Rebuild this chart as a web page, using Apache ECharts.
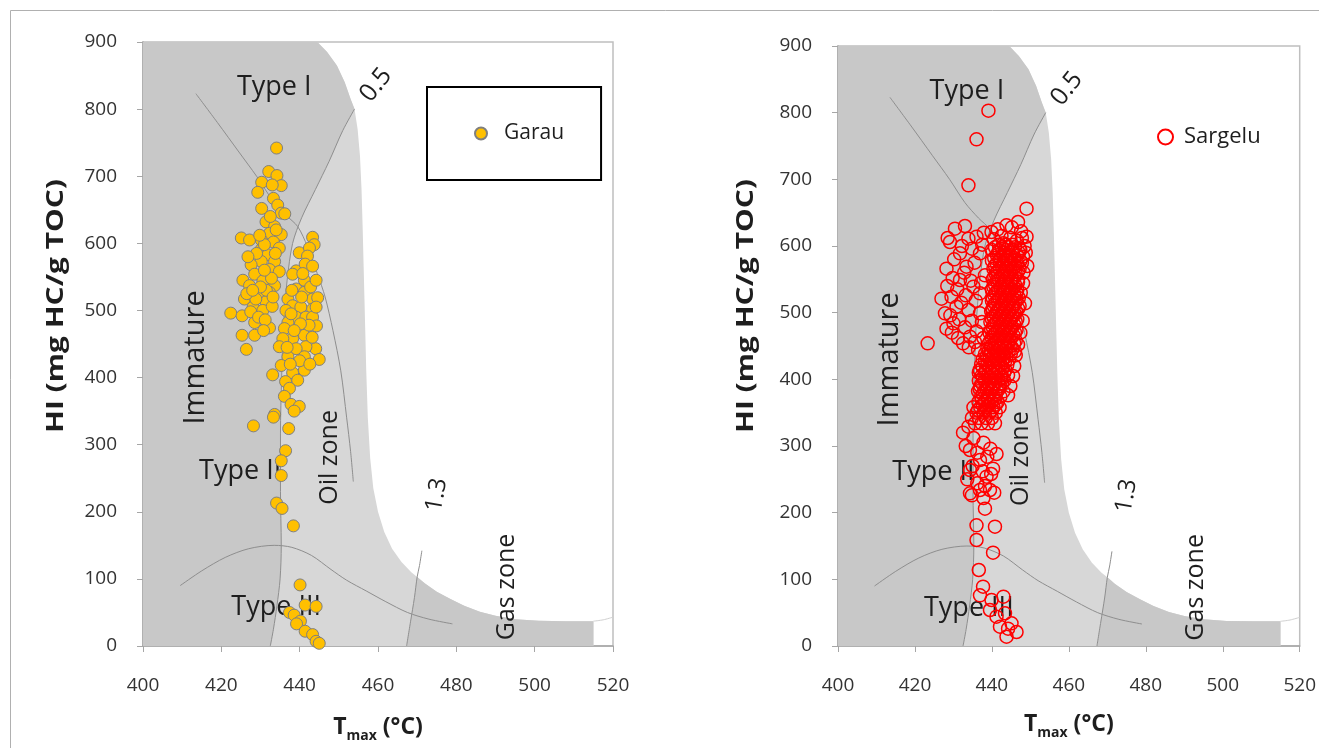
<!DOCTYPE html>
<html>
<head>
<meta charset="UTF-8">
<title>HI vs Tmax - Garau / Sargelu</title>
<script src="https://cdn.jsdelivr.net/npm/echarts@6/dist/echarts.min.js"></script>
<style>
  html, body { margin: 0; padding: 0; background: #fff; }
  #main { width: 1319px; height: 748px; }
</style>
</head>
<body>
<div id="main"></div>
<script>
// axis ranges: [min, max, interval]
var tmaxTicks = [400, 520, 20];
var hiTicks = [0, 900, 100];

// Garau samples [Tmax, HI]
var garau = [
  [434.1,742],[432.1,707],[434.2,701],[430.3,691],[435.3,686],[433,687],[429.3,676],[433.3,667],
  [434.4,657],[430.3,652],[435.3,645],[436.2,644],[431.4,632],[433.6,625],[432.3,615],[435.3,613],
  [425.1,608],[427.2,605],[430.2,605],[433.3,602],[430.2,591],[434.8,593],[431.9,583],[433.6,573],
  [430.2,573],[427.6,568],[432.3,561],[428.5,554],[434.8,558],[425.5,545],[430.6,544],[433.6,537],
  [427.2,537],[432.3,527],[429.3,524],[425.9,517],[431.4,513],[428.1,505],[422.4,496],[425.3,492],
  [430.6,500],[428.5,482],[432.3,474],[425.3,463],[428.5,463],[426.4,442],
  [431,598],[429,585],[432.8,548],[431.5,530],[428.8,517],[433.8,585],[426.5,525],[430,535],
  [427.5,498],[433,506],[429.5,490],[431.2,486],[434,620],[432.5,640],[431,560],[429.8,612],
  [426.8,580],[428,530],[433.2,520],[430.8,470],
  [443.3,609],[443.7,598],[439.9,586],[442.5,593],[442,581],[439.1,559],[441.4,569],[443.3,566],
  [438.2,554],[441.2,545],[439.1,532],[441.2,527],[443.3,517],[444.6,519],[437,517],[438.2,507],
  [440.3,505],[443.3,502],[436.5,500],[439.1,490],[441.6,490],[443.3,490],[444.3,477],[437,482],
  [436.1,473],[439.9,470],[441.2,463],[438.2,458],[435.7,458],[444.1,443],[441.6,446],[445,427],
  [439.1,443],[434.8,446],[437,431],[441.2,431],[435.3,418],[438.2,407],[441.2,411],[433.1,404],
  [436.4,394],[439.5,396],[437.4,384],[436.1,372],[437.8,360],[439.9,357],[433.6,345],
  [442.8,535],[440.5,520],[444.2,505],[437.8,495],[442.4,478],[440.2,480],[438.6,470],[443.2,460],
  [436.8,445],[440,425],[442.6,420],[437.6,420],[444.2,545],[440.8,555],[438,530],
  [438.6,350],[433.3,341],[428.2,328],[437.2,324],[436.4,291],[435.3,276],[435.3,254],[434.1,213],
  [435.5,205],[438.4,179],[440.1,91],[441.4,61],[444.2,59],[437.4,50],[438.6,46],[440.2,37],
  [439.2,33],[441.4,22],[443.3,17],[444.2,7],[445,4]
];

// Sargelu samples [Tmax, HI]
var sargelu = [
  [439.1,803],[436,760],[433.9,691],[449,656],
  [430.4,626],[429.1,606],[433.9,611],[436,614],[431.7,589],[428.2,566],[433.4,569],[436.9,589],
  [438.2,556],[431.7,549],[435.2,539],[426.9,521],[429.5,524],[430.8,509],[433.9,504],[427.8,499],
  [436.9,529],[428.2,476],[432.5,454],[434.3,464],[423.3,454],[436.9,499],
  [432.2,600],[434.8,596],[437.5,602],[430.2,580],[435.5,575],[432.8,560],[429.8,552],[434.5,548],
  [437.2,545],[428.4,540],[431,535],[433.2,526],[435.8,518],[432,515],[429.2,496],[431.5,490],
  [434.8,488],[437.4,486],[430,484],[433,478],[436,472],[429.6,470],[431.2,462],[435.6,456],
  [437.8,462],[434,448],[436.4,444],[437.9,620],[433,630],[428.5,612],
  [439.9,621],[443.8,631],[446.8,636],[449,614],[448.1,584],[448.1,544],[448.6,514],[441.5,625],
  [445.2,628],[447.6,622],[442.5,615],[444.8,612],[446.5,608],[440.5,610],[448.5,600],[447.2,596],
  [443,604],[448.8,590],[449.2,570],[447.8,612],
  [440.8,598],[442.6,598],[444.3,598],[446,598],
  [441.6,590],[443.4,590],[445.2,590],[447,590],
  [440.6,582],[442.2,582],[444,582],[445.8,582],
  [441.2,574],[443,574],[444.8,574],[446.6,574],
  [440.4,566],[442,566],[443.8,566],[445.5,566],[447.2,566],
  [441,558],[442.8,558],[444.6,558],[446.2,558],
  [440.2,550],[441.8,550],[443.5,550],[445.2,550],[446.8,550],
  [440.8,542],[442.6,542],[444.2,542],[446,542],
  [440,534],[441.6,534],[443.3,534],[445,534],[446.6,534],
  [440.6,526],[442.4,526],[444,526],[445.8,526],
  [440,518],[441.5,518],[443.2,518],[444.8,518],[446.4,518],
  [440.5,510],[442.2,510],[443.9,510],[445.6,510],[447.2,510],
  [439.8,502],[441.4,502],[443,502],[444.6,502],[446.3,502],
  [440.4,494],[442,494],[443.8,494],[445.4,494],
  [439.6,486],[441.2,486],[442.9,486],[444.6,486],[446.2,486],
  [440.2,478],[441.9,478],[443.6,478],[445.2,478],
  [439.4,470],[441,470],[442.7,470],[444.4,470],[446,470],
  [440,462],[441.6,462],[443.4,462],[445,462],
  [439.2,454],[440.8,454],[442.5,454],[444.2,454],[445.8,454],
  [438.8,446],[440.4,446],[442.1,446],[443.8,446],[445.4,446],
  [438.2,438],[439.8,438],[441.5,438],[443.2,438],[444.9,438],
  [437.6,430],[439.4,430],[441,430],[442.8,430],[444.5,430],
  [437.2,422],[438.8,422],[440.6,422],[442.3,422],[444,422],
  [436.8,414],[438.4,414],[440.2,414],[441.8,414],[443.5,414],
  [437.4,406],[439,406],[440.8,406],[442.5,406],[444.2,406],
  [436.6,398],[438.2,398],[440,398],[441.6,398],[443.2,398],
  [437,390],[438.8,390],[440.4,390],[442.1,390],
  [436.4,382],[438,382],[439.8,382],[441.4,382],[443,382],
  [437.2,374],[438.9,374],[440.6,374],[442.2,374],
  [436.5,366],[438.2,366],[439.8,366],[441.5,366],
  [435.2,358],[437,358],[438.6,358],[440.4,358],[442,358],
  [436,350],[437.8,350],[439.4,350],[441,350],
  [434.8,342],[436.6,342],[438.4,342],[440,342],
  [435.6,334],[437.3,334],[439,334],[440.8,334],
  [441.8,602],[443.6,602],[445.3,602],
  [440,594],[441.9,594],[443.6,594],[445.4,594],[447.4,594],
  [441.3,586],[443,586],[444.8,586],[446.6,586],
  [440,578],[442,578],[443.9,578],[445.8,578],[447.4,578],
  [440.8,570],[442.6,570],[444.4,570],[446.2,570],
  [441.4,562],[443.2,562],[444.9,562],[446.8,562],
  [440.6,554],[442.4,554],[444.2,554],[446,554],
  [441.4,546],[443.2,546],[445,546],[446.8,546],
  [440.4,538],[442.2,538],[444,538],[445.8,538],
  [441,530],[442.8,530],[444.6,530],[446.4,530],
  [440.2,522],[441.9,522],[443.6,522],[445.4,522],[447,522],
  [440.8,514],[442.6,514],[444.4,514],[446,514],
  [440.2,506],[441.8,506],[443.5,506],[445.2,506],[446.8,506],
  [441,498],[442.6,498],[444.3,498],[446,498],
  [440,490],[441.8,490],[443.4,490],[445,490],[446.6,490],
  [440.6,482],[442.4,482],[444,482],[445.8,482],
  [439.8,474],[441.5,474],[443.2,474],[444.9,474],[446.4,474],
  [440.4,466],[442.2,466],[443.9,466],[445.6,466],
  [439.6,458],[441.3,458],[443,458],[444.6,458],[446.2,458],
  [439.8,450],[441.6,450],[443.2,450],[444.9,450],
  [439.2,442],[441,442],[442.7,442],[444.4,442],[446,442],
  [438.6,434],[440.4,434],[442.1,434],[443.8,434],
  [438.2,426],[439.9,426],[441.7,426],[443.4,426],
  [437.6,418],[439.4,418],[441,418],[442.8,418],
  [436.6,410],[438.2,410],[439.9,410],[441.6,410],[443.2,410],
  [437.6,402],[439.3,402],[441,402],[442.8,402],
  [437.4,394],[439.2,394],[440.8,394],[442.6,394],
  [436.8,386],[438.6,386],[440.2,386],[441.9,386],
  [437.6,378],[439.3,378],[441,378],
  [437.4,370],[439,370],[440.8,370],
  [437.6,362],[439.2,362],[441,362],
  [436.4,354],[438.2,354],[440,354],
  [447.8,575],[448.2,560],[447.5,530],[448,488],[447.4,470],[446.8,452],[446.2,436],[445.8,420],
  [445.5,405],[444.8,390],[444.2,376],
  [432.5,320],[435.2,312],[437.8,305],[439.6,296],[433.2,300],[436.2,290],[438.8,284],[441.2,288],
  [435,270],[437.6,262],[439.8,258],[433.6,250],[436.2,244],[438.2,240],[434.8,226],[437.8,222],
  [440.6,230],
  [433.9,329],[434.3,294],[436.9,279],[440.3,266],[438.6,254],[434.3,229],[436.9,234],[439.5,234],
  [434.3,264],[438.2,206],[436,181],[440.8,179],[436,159],[440.3,140],[436.6,114],[437.7,89],
  [436.9,76],[439.9,69],[443,74],[439.5,54],[441.2,44],[443.4,49],[442.1,29],[444.2,26],
  [446.4,21],[443.8,14],[445.1,34]
];

// background diagram (kerogen type / maturity template), [Tmax, HI]
var envTop = [[444.5,900],[447,885],[449.5,865],[451.5,840],[453,815],[454,800]];
var envSide = [[454.8,770],[455.4,730],[455.8,680],[456.1,620],[456.4,550],[456.7,480],[457,410],
  [457.4,340],[458,280],[458.8,235],[460,200],[461.6,170],[463.6,145],[466,125],[468.5,110],[470,103]];
var envBottom = [[472,93],[475,81],[478.5,70],[482,60],[486,51],[490,45],[495,40],[501,37.5],
  [508,37],[515,37]];
var envTail = [[515,37],[517.5,39],[520,43]];
var roLow = [[454,800],[451,768],[447.5,722],[444,680],[440.5,638],[438.2,600],[436.8,545],
  [435.9,480],[435.4,400],[435.1,316],[435.1,230],[435.3,150],[435,100],[434.2,60],[433.3,25],[432.5,0]];
var roHigh = [[471.2,142],[470.6,120],[470,103],[469.3,72],[468.3,36],[467.3,0]];
var typeOneLine = [[413.5,823],[419,780],[424.5,736],[429,700],[433,665],[436.5,642],[439.5,625],
  [442,595],[444.5,555],[446.5,520],[448.5,470],[450.5,410],[452,340],[453,290],[453.7,245]];
var typeThreeLine = [[409.5,90],[415,112],[421,132],[427,145],[433.5,150],[438,147],[443,135],
  [448,114],[452,98],[457,82],[462,66],[467.5,50],[473,40],[479,33]];

// diagram annotations: text, Tmax, HI
var diagramLabels = [
  ['Type I', 433.5, 832],
  ['0.5', 459.5, 836],
  ['Immature', 413.5, 430],
  ['Type II', 424.8, 261],
  ['Oil zone', 447.6, 281],
  ['1.3', 475, 225],
  ['Gas zone', 493, 88],
  ['Type III', 434, 57]
];
// text look: [rotation deg, font size]
var labelLook = {
  'Type I': [0, 27], '0.5': [52, 25], 'Immature': [90, 29], 'Type II': [0, 27],
  'Oil zone': [90, 25], '1.3': [80, 24], 'Gas zone': [90, 25], 'Type III': [0, 27]
};

var DARK = '#c8c8c8', LIGHT = '#d7d7d7', CURVE = '#8e8e8e';
var FONT = 'Open Sans';
var TEXT = '#1e1e1e';

var envelope = [[400,0],[400,900]].concat(envTop, envSide, envBottom, [[515,0]]);
var immature = [[400,0],[400,900]].concat(envTop, roLow.slice(1));
var gasZone = [[470,103]].concat(envBottom, [[515,0]], roHigh.slice(3).reverse());
var shapes = [
  { pts: envelope, fill: LIGHT },
  { pts: immature, fill: DARK },
  { pts: gasZone, fill: DARK }
];

function shapeSeries(gi) {
  return {
    type: 'custom', xAxisIndex: gi, yAxisIndex: gi, silent: true, z: 1,
    data: shapes.map(function () { return [410, 10]; }),
    renderItem: function (params, api) {
      var s = shapes[params.dataIndex];
      return {
        type: 'polygon',
        shape: { points: s.pts.map(function (p) { return api.coord(p); }) },
        style: { fill: s.fill }
      };
    }
  };
}

function curve(gi, pts, color) {
  return {
    type: 'line', xAxisIndex: gi, yAxisIndex: gi, data: pts, smooth: 0.3, silent: true,
    showSymbol: false, z: 2, lineStyle: { color: color || CURVE, width: 1 }
  };
}

function labelSeries(gi) {
  return {
    type: 'custom', xAxisIndex: gi, yAxisIndex: gi, silent: true, z: 3,
    data: diagramLabels.map(function (d) { return [d[1], d[2]]; }),
    renderItem: function (params, api) {
      var d = diagramLabels[params.dataIndex];
      var look = labelLook[d[0]];
      var c = api.coord([d[1], d[2]]);
      return {
        type: 'text', x: c[0], y: c[1], rotation: look[0] * Math.PI / 180,
        style: { text: d[0], fontSize: look[1], fontFamily: FONT, fill: TEXT,
                 align: 'center', verticalAlign: 'middle' }
      };
    }
  };
}

function makeX(gi, gap) {
  return {
    gridIndex: gi, type: 'value', min: tmaxTicks[0], max: tmaxTicks[1], interval: tmaxTicks[2],
    name: '{t|T}{s|max}{t| (°C)}', nameLocation: 'middle', nameGap: gap,
    nameTextStyle: { rich: {
      t: { fontSize: 23, fontWeight: 'bold', fontFamily: FONT, color: TEXT, lineHeight: 32 },
      s: { fontSize: 14, fontWeight: 'bold', fontFamily: FONT, color: TEXT, lineHeight: 14, verticalAlign: 'bottom' }
    } },
    axisLine: { show: true, lineStyle: { color: '#a6a6a6', width: 1.5 } },
    axisTick: { show: true, inside: false, length: 6, lineStyle: { color: '#a6a6a6' } },
    axisLabel: { fontSize: 19, fontFamily: FONT, color: '#333', margin: 30 },
    splitLine: { show: false }
  };
}

function makeY(gi) {
  return {
    gridIndex: gi, type: 'value', min: hiTicks[0], max: hiTicks[1], interval: hiTicks[2],
    axisLine: { show: true, lineStyle: { color: '#a6a6a6', width: 1.5 } },
    axisTick: { show: true, inside: false, length: 6, lineStyle: { color: '#a6a6a6' } },
    axisLabel: { fontSize: 19, fontFamily: FONT, color: '#333', margin: 26 },
    splitLine: { show: false }
  };
}

// y-axis title, drawn a bit stretched along its reading direction like the source figure
function yTitle(x, y) {
  return {
    type: 'text', x: x, y: y, rotation: Math.PI / 2, scaleX: 1.3, silent: true,
    style: { text: 'HI (mg HC/g TOC)', fontSize: 23, fontWeight: 'bold', fontFamily: FONT,
             fill: TEXT, align: 'center', verticalAlign: 'middle' }
  };
}

var chart = echarts.init(document.getElementById('main'), null, { renderer: 'canvas' });
var series = [];
[0, 1].forEach(function (gi) {
  series.push(shapeSeries(gi));
  series.push(curve(gi, typeOneLine));
  series.push(curve(gi, roLow));
  series.push(curve(gi, typeThreeLine));
  series.push(curve(gi, roHigh));
  series.push(curve(gi, envTail, '#d0d0d0'));
  series.push(labelSeries(gi));
});
series.push({
  name: 'Garau', type: 'scatter', xAxisIndex: 0, yAxisIndex: 0, data: garau, z: 5,
  symbol: 'circle', symbolSize: 12,
  itemStyle: { color: '#FFC000', borderColor: '#7f7f7f', borderWidth: 1, opacity: 1 }
});
series.push({
  name: 'Sargelu', type: 'scatter', xAxisIndex: 1, yAxisIndex: 1, data: sargelu, z: 5,
  symbol: 'circle', symbolSize: 13,
  itemStyle: { color: 'rgba(255,255,255,0)', borderColor: '#ff0000', borderWidth: 1.5, opacity: 1 }
});

chart.setOption({
  backgroundColor: '#fff',
  animation: false,
  graphic: [
    { type: 'rect', left: 8, top: 8, silent: true,
      shape: { width: 1330, height: 760 },
      style: { fill: 'none', stroke: '#b0b0b0', lineWidth: 1 } },
    yTitle(56, 306),
    yTitle(746, 306)
  ],
  grid: [
    { left: 143, top: 42, width: 470, height: 610, show: true, borderColor: '#bfbfbf', borderWidth: 1.5, backgroundColor: '#fff' },
    { left: 838, top: 46, width: 462, height: 600, show: true, borderColor: '#bfbfbf', borderWidth: 1.5, backgroundColor: '#fff' }
  ],
  xAxis: [makeX(0, 65), makeX(1, 62)],
  yAxis: [makeY(0), makeY(1)],
  legend: [
    { data: ['Garau'], left: 427, top: 87, borderColor: '#000', borderWidth: 2,
      padding: [36, 37, 36, 47], itemWidth: 12, itemHeight: 12,
      textStyle: { fontSize: 21, fontFamily: FONT, color: TEXT, padding: [0, 0, 0, 12] } },
    { data: ['Sargelu'], left: 1157, top: 126, padding: 0, itemWidth: 15, itemHeight: 15,
      textStyle: { fontSize: 22, fontFamily: FONT, color: TEXT, padding: [0, 0, 0, 6] } }
  ],
  series: series
});
</script>
</body>
</html>
